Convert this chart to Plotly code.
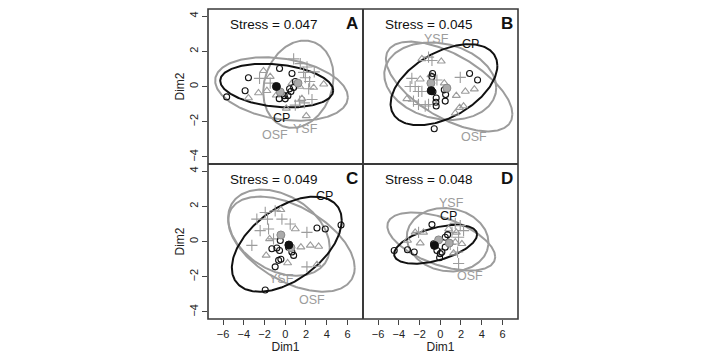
import numpy as np
import plotly.graph_objects as go
from plotly.subplots import make_subplots

# ---------------- data ----------------
panels = ["A", "B", "C", "D"]
stress = {"A": "0.047", "B": "0.045", "C": "0.049", "D": "0.048"}

# Panel A
cp_A_x = [-3.55, -3.87, -5.65, -0.55, 0.65, -0.58, 0.0, 0.26, 0.55, 0.81, 0.97, 0.42, -0.1]
cp_A_y = [0.5, -0.24, -0.59, 1.02, 0.74, -0.69, -0.7, -0.52, -0.28, -0.06, 0.28, -0.13, -0.52]
osf_A_x = [-3.55, -2.58, -1.77, -2.1, -1.45, -0.87, 1.39, 2.74, 3.71, 1.61, 2.03, 0.1, 0.65]
osf_A_y = [-0.65, -0.37, -0.24, 0.89, 0.56, -0.5, 0.0, -0.06, 0.13, -0.69, -1.67, -1.24, 0.19]
ysf_A_x = [-2.48, -1.45, 0.81, 1.45, 2.1, 2.8, 1.77, 2.35, 1.94, 1.39, 2.58, 1.84, 0.97, 2.26]
ysf_A_y = [0.46, 0.19, 1.57, 1.3, 1.11, 0.83, 0.8, 0.28, 0.5, -0.83, -0.74, -0.93, -1.06, -0.13]

# Panel B
cp_B_x = [2.83, 3.6, -0.74, -0.9, -0.7, 0.39, 0.52, 0.48, -0.39, -0.42, -0.39, -0.58, -0.8]
cp_B_y = [0.74, 0.37, 0.74, -0.2, -0.3, -0.19, -0.46, -0.83, -0.65, -0.89, -1.11, -2.4, 0.56]
osf_B_x = [-1.77, 0.1, -1.93, 0.39, 1.55, 2.42, 3.29, -3.22, 1.45, 1.87, 2.25, -0.9]
osf_B_y = [1.57, 1.43, 0.41, 0.19, -0.52, -0.28, -0.15, -0.7, -1.52, -1.2, -1.11, 0.65]
ysf_B_x = [-1.13, -0.8, -2.74, -2.9, -2.42, -2.1, -1.77, -2.58, -2.1, -1.45, -1.13, 1.93, -0.32]
ysf_B_y = [1.67, 1.48, 0.46, 0.0, 0.0, -0.28, -0.28, -0.83, -1.02, -1.11, -1.02, 0.52, 0.37]

# Panel C
cp_C_x = [3.06, 3.86, -1.29, -0.81, -0.55, 0.32, 0.64, 0.81, -0.64, -0.42, -0.97, -0.48, 5.38, -1.93]
cp_C_y = [0.77, 0.71, -0.41, -0.37, -0.51, -0.32, -0.6, -0.79, -1.07, -1.01, -1.44, 0.06, 0.94, -2.75]
osf_C_x = [-0.42, 0.97, -1.51, 1.51, 2.42, 3.22, -1.84, 0.23, 3.06]
osf_C_y = [1.8, 0.71, 0.15, -0.32, -0.22, -0.28, -0.79, -1.22, -1.31]
ysf_C_x = [-2.74, -1.93, -1.71, -0.97, -0.32, 0.48, 2.09, -2.42, -1.61, -3.22, -1.13, 2.09]
ysf_C_y = [1.27, 1.65, 1.27, 1.74, 1.27, 0.99, 0.52, 0.62, 0.71, -0.22, 0.15, -1.44]

# Panel D
cp_D_x = [-4.44, -3.16, -2.51, -0.64, -0.32, 0.0, -0.06, 0.16, 0.48, 0.71, 0.48, -0.8]
cp_D_y = [-0.51, -0.47, -0.6, -0.13, -0.51, -0.69, -0.92, -0.6, -0.32, 0.39, 0.24, 0.96]
osf_D_x = [-3.16, -1.93, -2.42, -1.61, 1.55, 2.09, 1.29, 1.45, 0.81]
osf_D_y = [0.06, -0.09, 0.52, 0.52, 0.52, -0.13, -0.66, -0.04, 0.71]
ysf_D_x = [-2.09, 1.13, 1.77, 2.25, 1.93, 0.97, 1.67, 1.77, 1.45]
ysf_D_y = [0.52, 0.52, 0.24, 0.62, 0.9, -0.17, -0.6, -1.25, 1.03]

# group centroids  [CP, OSF, YSF] as (x, y)
cent_A = [(-0.85, 0.0), (-0.48, -0.31), (1.23, 0.19)]
cent_B = [(-0.87, -0.24), (0.64, -0.09), (-0.9, 0.19)]
cent_C = [(0.35, -0.2), (0.55, -0.35), (-0.42, 0.37)]
cent_D = [(-0.55, -0.22), (-0.16, 0.09), (0.87, -0.09)]

# ellipses: [cx, cy, half-width x, half-height y, phase (deg)]
ell_A = {"CP": [-0.82, 0.05, 5.45, 1.24, 103], "OSF": [-0.36, -0.14, 6.4, 1.8, 105], "YSF": [1.27, 0.13, 3.39, 2.48, 80]}
ell_B = {"CP": [0.36, 0.1, 5.15, 2.3, 62], "OSF": [0.86, 0.0, 6.1, 2.55, 128], "YSF": [0.0, 0.3, 5.4, 2.2, 100]}
ell_C = {"CP": [0.15, -0.15, 5.3, 2.7, 60], "OSF": [0.6, -0.15, 6.1, 2.7, 120], "YSF": [-0.61, 0.5, 4.9, 2.45, 110]}
ell_D = {"CP": [-0.45, -0.16, 4.0, 1.1, 60], "OSF": [0.1, 0.0, 5.2, 1.65, 122], "YSF": [0.71, 0.1, 3.94, 1.8, 95]}

# group label positions (x, y)
lab_A = {"CP": (-0.32, -1.8), "OSF": (-1.0, -2.75), "YSF": (2.0, -2.4)}
lab_B = {"CP": (2.9, 2.44), "OSF": (3.22, -2.85), "YSF": (-0.4, 2.72)}
lab_C = {"CP": (3.76, 2.58), "OSF": (2.58, -3.32), "YSF": (-0.4, -2.13)}
lab_D = {"CP": (0.81, 1.46), "OSF": (2.83, -1.97), "YSF": (1.13, 2.21)}

x_ticks = [-6, -4, -2, 0, 2, 4, 6]
y_ticks = [-4, -2, 0, 2, 4]

# ---------------- figure ----------------
BLACK = "#111111"
GRAY = "#9c9c9c"
FONT = "Liberation Sans, Arial, sans-serif"

data = {
    "A": (cp_A_x, cp_A_y, osf_A_x, osf_A_y, ysf_A_x, ysf_A_y, cent_A, ell_A, lab_A),
    "B": (cp_B_x, cp_B_y, osf_B_x, osf_B_y, ysf_B_x, ysf_B_y, cent_B, ell_B, lab_B),
    "C": (cp_C_x, cp_C_y, osf_C_x, osf_C_y, ysf_C_x, ysf_C_y, cent_C, ell_C, lab_C),
    "D": (cp_D_x, cp_D_y, osf_D_x, osf_D_y, ysf_D_x, ysf_D_y, cent_D, ell_D, lab_D),
}
pos = {"A": (1, 1), "B": (1, 2), "C": (2, 1), "D": (2, 2)}

fig = make_subplots(rows=2, cols=2, horizontal_spacing=0, vertical_spacing=0)
t = np.linspace(0, 2 * np.pi, 240)

for k, p in enumerate(panels):
    r, c = pos[p]
    cpx, cpy, ox, oy, yx, yy, cent, ell, lab = data[p]
    for g, col in [("OSF", GRAY), ("YSF", GRAY), ("CP", BLACK)]:
        cx, cy, hx, hy, ph = ell[g]
        ex = cx + hx * np.cos(t)
        ey = cy + hy * np.cos(t - np.radians(ph))
        fig.add_trace(go.Scatter(x=ex, y=ey, mode="lines", line=dict(color=col, width=2),
                                 hoverinfo="skip", showlegend=False), row=r, col=c)
    fig.add_trace(go.Scatter(x=ox, y=oy, mode="markers",
                             marker=dict(symbol="triangle-up-open", size=7, color=GRAY, line=dict(width=1.1)),
                             showlegend=False), row=r, col=c)
    fig.add_trace(go.Scatter(x=yx, y=yy, mode="markers",
                             marker=dict(symbol="cross-thin-open", size=8, color=GRAY, line=dict(width=1.1, color=GRAY)),
                             showlegend=False), row=r, col=c)
    fig.add_trace(go.Scatter(x=cpx, y=cpy, mode="markers",
                             marker=dict(symbol="circle-open", size=6, color=BLACK, line=dict(width=1.1)),
                             showlegend=False), row=r, col=c)
    fig.add_trace(go.Scatter(x=[cent[1][0], cent[2][0]], y=[cent[1][1], cent[2][1]], mode="markers",
                             marker=dict(symbol="circle", size=8, color="#aaaaaa", line=dict(width=1, color="#888888")),
                             showlegend=False), row=r, col=c)
    fig.add_trace(go.Scatter(x=[cent[0][0]], y=[cent[0][1]], mode="markers",
                             marker=dict(symbol="circle", size=8, color=BLACK, line=dict(width=1, color=BLACK)),
                             showlegend=False), row=r, col=c)
    suffix = "" if k == 0 else str(k + 1)
    for g in ["CP", "OSF", "YSF"]:
        fig.add_annotation(x=lab[g][0], y=lab[g][1], xref="x" + suffix, yref="y" + suffix, text=g,
                           showarrow=False, xanchor="center", yanchor="middle",
                           font=dict(family=FONT, size=12.5, color=BLACK if g == "CP" else GRAY))
    fig.add_annotation(x=0.42, y=0.9, xref="x%s domain" % suffix, yref="y%s domain" % suffix,
                       text="Stress = " + stress[p], showarrow=False, xanchor="center", yanchor="middle",
                       font=dict(family=FONT, size=13.5, color=BLACK))
    fig.add_annotation(x=0.93, y=0.905, xref="x%s domain" % suffix, yref="y%s domain" % suffix,
                       text="<b>%s</b>" % p, showarrow=False, xanchor="center", yanchor="middle",
                       font=dict(family=FONT, size=17, color=BLACK))

axis_common = dict(showline=False, showgrid=False, zeroline=False, automargin=False,
                   tickfont=dict(family=FONT, size=11, color="#222222"),
                   tickcolor="#444444", ticklen=5, tickwidth=1)

for r in (1, 2):
    for c in (1, 2):
        xa = dict(axis_common, range=[-7.45, 7.5], tickvals=x_ticks)
        ya = dict(axis_common, range=[-4.4, 4.4], tickvals=y_ticks)
        if r == 2:
            xa.update(ticks="outside", showticklabels=True,
                      title=dict(text="Dim1", font=dict(family=FONT, size=12, color="#222222"), standoff=1))
        else:
            xa.update(ticks="", showticklabels=False)
        if c == 1:
            ya.update(ticks="outside", showticklabels=True, tickangle=-90,
                      title=dict(text="Dim2", font=dict(family=FONT, size=12, color="#222222"), standoff=0))
        else:
            ya.update(ticks="", showticklabels=False)
        fig.update_xaxes(xa, row=r, col=c)
        fig.update_yaxes(ya, row=r, col=c)

# panel borders
fig.add_shape(type="rect", xref="paper", yref="paper", x0=0, x1=1, y0=0, y1=1, line=dict(color="#3a3a3a", width=1.6))
fig.add_shape(type="line", xref="paper", yref="paper", x0=0.5, x1=0.5, y0=0, y1=1, line=dict(color="#3a3a3a", width=2))
fig.add_shape(type="line", xref="paper", yref="paper", x0=0, x1=1, y0=0.5, y1=0.5, line=dict(color="#3a3a3a", width=2))

fig.update_layout(width=702, height=358, margin=dict(l=208, r=184, t=9, b=39),
                  plot_bgcolor="white", paper_bgcolor="white", showlegend=False)

fig.write_html("out.html", config={"displayModeBar": False},
               post_script="document.body.style.margin='0';document.body.style.overflow='hidden';")
